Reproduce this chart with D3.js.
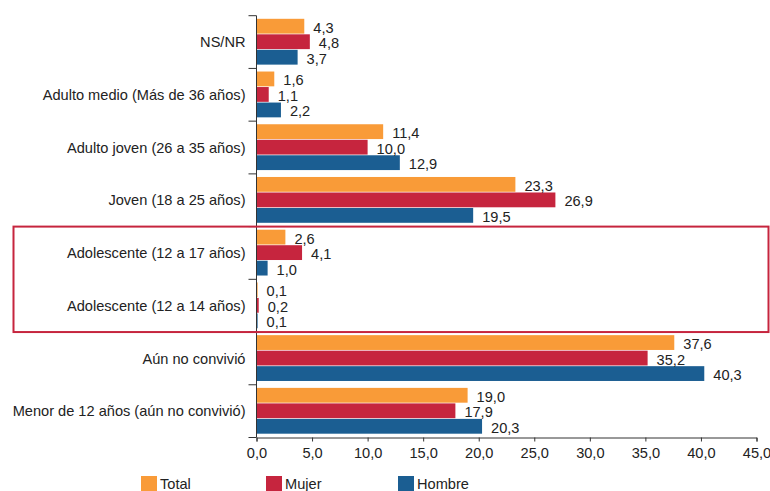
<!DOCTYPE html>
<html>
<head>
<meta charset="utf-8">
<script src="https://cdn.jsdelivr.net/npm/d3@7"></script>
<style>
  html, body { margin: 0; padding: 0; background: #fff; }
  svg text { font-family: "Liberation Sans", Arial, sans-serif; fill: #222; }
</style>
</head>
<body>
<svg id="chart" width="770" height="491"></svg>
<script>
// ── Data ──────────────────────────────────────────────────────────────────────
const categories = [
  "NS/NR",
  "Adulto medio (Más de 36 años)",
  "Adulto joven (26 a 35 años)",
  "Joven (18 a 25 años)",
  "Adolescente (12 a 17 años)",
  "Adolescente (12 a 14 años)",
  "Aún no convivió",
  "Menor de 12 años (aún no convivió)"
];
const series = ["Total", "Mujer", "Hombre"];
const total  = [4.3, 1.6, 11.4, 23.3, 2.6, 0.1, 37.6, 19.0];
const mujer  = [4.8, 1.1, 10.0, 26.9, 4.1, 0.2, 35.2, 17.9];
const hombre = [3.7, 2.2, 12.9, 19.5, 1.0, 0.1, 40.3, 20.3];
const xTicks = [0, 5, 10, 15, 20, 25, 30, 35, 40, 45];
const highlighted = ["Adolescente (12 a 17 años)", "Adolescente (12 a 14 años)"];

const COLORS = { Total: "#f99b38", Mujer: "#c6253e", Hombre: "#1b5e92" };
const rows = categories.map((c, i) => ({
  cat: c, Total: total[i], Mujer: mujer[i], Hombre: hombre[i]
}));

// ── Layout ────────────────────────────────────────────────────────────────────
const FS = "14.6px";
const svg = d3.select("#chart");
const x  = d3.scaleLinear().domain([0, 45]).range([256.5, 756.5]);
const y0 = d3.scaleBand().domain(categories).range([15.7, 437.5]);
const y1 = d3.scaleBand().domain(series).range([0, y0.bandwidth()]).paddingOuter(0.2);
const fmt = v => d3.format(".1f")(v).replace(".", ",");

// Bars
const groups = svg.append("g").selectAll("g")
  .data(rows)
  .join("g")
  .attr("transform", d => `translate(0,${y0(d.cat)})`);

groups.selectAll("rect")
  .data(d => series.map(k => ({ key: k, value: d[k] })))
  .join("rect")
  .attr("x", x(0))
  .attr("y", d => y1(d.key))
  .attr("width", d => x(d.value) - x(0))
  .attr("height", y1.bandwidth() - 0.7)
  .attr("fill", d => COLORS[d.key]);

groups.selectAll("text")
  .data(d => series.map(k => ({ key: k, value: d[k] })))
  .join("text")
  .attr("x", d => x(d.value) + 9)
  .attr("y", d => y1(d.key) + y1.bandwidth() / 2)
  .attr("dy", "0.42em")
  .attr("font-size", FS)
  .text(d => fmt(d.value));

// Left axis: ticks on group boundaries, labels centered
const yAx = svg.append("g").attr("transform", `translate(${x(0)},0)`);
const bounds = categories.map(c => y0(c)).concat([y0.range()[1]]);
yAx.append("line")
  .attr("y1", bounds[0]).attr("y2", bounds[bounds.length - 1])
  .attr("stroke", "#333");
yAx.selectAll("line.tk")
  .data(bounds)
  .join("line")
  .attr("class", "tk")
  .attr("x1", -8).attr("x2", 0)
  .attr("y1", d => d).attr("y2", d => d)
  .attr("stroke", "#333");
yAx.selectAll("text")
  .data(categories)
  .join("text")
  .attr("x", -11)
  .attr("y", d => y0(d) + y0.bandwidth() / 2)
  .attr("dy", "0.35em")
  .attr("text-anchor", "end")
  .attr("font-size", FS)
  .text(d => d);

// Bottom axis
const xAx = svg.append("g").attr("transform", `translate(0,${y0.range()[1]})`)
  .call(d3.axisBottom(x).tickValues(xTicks).tickFormat(fmt).tickSize(4).tickPadding(6));
xAx.select(".domain").attr("stroke", "#333");
xAx.selectAll(".tick line").attr("stroke", "#333");
xAx.selectAll(".tick text")
  .attr("font-size", FS)
  .attr("font-family", "Liberation Sans, Arial, sans-serif")
  .attr("fill", "#222");

// Highlight box around the adolescent categories
const hTop = y0(highlighted[0]);
const hBot = y0(highlighted[highlighted.length - 1]) + y0.bandwidth();
svg.append("rect")
  .attr("x", 13.5).attr("y", hTop)
  .attr("width", 755).attr("height", hBot - hTop)
  .attr("fill", "none")
  .attr("stroke", "#c6253e")
  .attr("stroke-width", 2);

// Legend
const legX = [141, 266, 398];
const leg = svg.append("g").attr("transform", "translate(0,476)");
series.forEach((k, i) => {
  leg.append("rect").attr("x", legX[i]).attr("y", 0)
    .attr("width", 16).attr("height", 15).attr("fill", COLORS[k]);
  leg.append("text").attr("x", legX[i] + 19).attr("y", 12.5)
    .attr("font-size", FS).text(k);
});
</script>
</body>
</html>
